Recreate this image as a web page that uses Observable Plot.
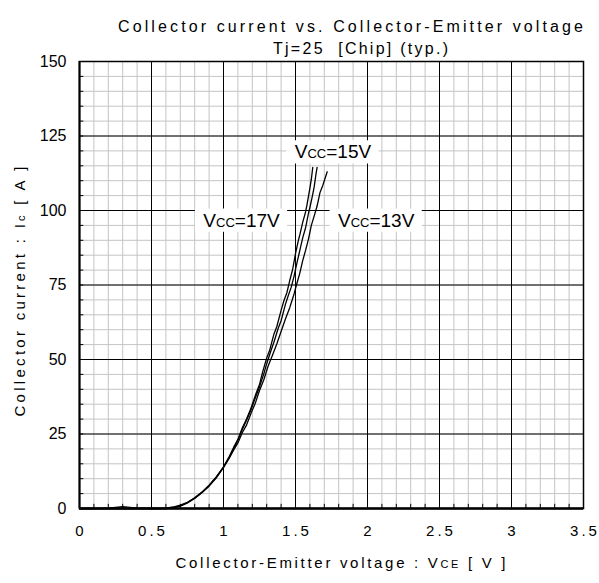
<!DOCTYPE html>
<html><head><meta charset="utf-8">
<script src="https://cdn.jsdelivr.net/npm/d3@7"></script>
<script src="https://cdn.jsdelivr.net/npm/@observablehq/plot@0.6"></script>
<style>body{margin:0;background:#fff} svg{display:block}</style>
</head><body><div id="chart"></div>
<script>
// ---- data ----
const v17 = [0,0.1,0.2,0.25,0.3,0.35,0.4,0.5,0.6,0.65,0.7,0.75,0.8,0.85,0.9,0.95,1.0,1.04,1.07,1.1,1.13,1.16,1.19,1.22,1.25,1.27,1.3,1.32,1.35,1.37,1.4,1.42,1.44,1.46,1.48,1.5,1.52,1.53,1.55,1.57,1.58,1.6,1.61,1.62];
const i17 = [0,0,0.1,0.4,0.6,0.4,0.1,0,0.1,0.5,1.1,2.1,3.6,5.5,7.8,10.6,14.0,17.4,20.5,23.2,27.0,30.0,33.6,37.8,41.6,45.5,50.5,53.0,58.5,61.0,66.5,69.8,72.4,76.5,80.2,85.5,90.0,91.8,96.0,99.5,102.0,107.5,110.5,114.5];
const v15 = [0,0.5,0.6,0.65,0.7,0.75,0.8,0.85,0.9,0.95,1.0,1.04,1.07,1.1,1.13,1.16,1.19,1.22,1.25,1.28,1.3,1.33,1.35,1.38,1.4,1.43,1.45,1.47,1.49,1.51,1.53,1.55,1.57,1.59,1.6,1.62,1.63,1.64,1.65];
const i15 = [0,0,0,0.3,0.9,2.0,3.5,5.4,7.7,10.5,13.9,17.2,20.0,22.9,26.4,29.6,33.0,37.0,40.8,45.2,48.6,53.0,55.8,60.5,63.0,68.5,71.5,74.2,78.0,82.4,86.6,90.8,94.2,99.0,101.0,105.5,108.0,111.5,114.5];
const v13 = [0,0.5,0.6,0.65,0.7,0.75,0.8,0.85,0.9,0.95,1.0,1.04,1.07,1.1,1.13,1.16,1.19,1.22,1.25,1.28,1.31,1.34,1.37,1.4,1.43,1.46,1.49,1.51,1.53,1.55,1.57,1.59,1.61,1.63,1.65,1.67,1.69,1.7,1.72];
const i13 = [0,0,0,0.2,0.8,1.9,3.4,5.3,7.5,10.3,13.7,16.9,19.6,22.0,25.4,28.0,31.8,35.2,39.6,43.2,47.8,51.4,55.2,59.4,63.6,67.4,72.0,75.6,79.0,83.2,86.6,90.4,95.0,98.2,101.5,106.0,108.5,110.0,113.0];

const seriesNames = ["VCC=17V","VCC=15V","VCC=13V"];
const labelX = [1.125, 1.76, 2.06];
const labelY = [96.6, 119.5, 96.6];

const xTicks = [0,0.5,1,1.5,2,2.5,3,3.5];
const xTickLabels = ["0","0.5","1","1.5","2","2.5","3","3.5"];
const yTicks = [0,25,50,75,100,125,150];
const yTickLabels = ["0","25","50","75","100","125","150"];
const xMinor = d3.range(0, 36).map(k => k / 10);
const yMinor = d3.range(0, 31).map(k => k * 5);

const titleText = "Collector current vs. Collector-Emitter voltage";
const subtitleText = "Tj=25  [Chip] (typ.)";
const xLabelText = "Collector-Emitter voltage : VCE [ V ]";
const yLabelText = "Collector current : Ic [ A ]";

// ---- build tables ----
const curves = [
  ...v17.map((v, k) => ({s: seriesNames[0], v, i: i17[k]})),
  ...v15.map((v, k) => ({s: seriesNames[1], v, i: i15[k]})),
  ...v13.map((v, k) => ({s: seriesNames[2], v, i: i13[k]}))
];
const labels = seriesNames.map((t, k) => ({t, x: labelX[k], y: labelY[k]}));

const font = "Liberation Sans, Arial, sans-serif";

const chart = Plot.plot({
  width: 599, height: 583,
  marginLeft: 79, marginRight: 16, marginTop: 61, marginBottom: 75,
  x: {domain: [0, 3.5], axis: null},
  y: {domain: [0, 150], axis: null},
  style: {fontFamily: font, background: "#fff"},
  marks: [
    Plot.ruleX(xMinor, {stroke: "#c4c4c4", strokeWidth: 1}),
    Plot.ruleY(yMinor, {stroke: "#c4c4c4", strokeWidth: 1}),
    Plot.ruleX(xTicks, {stroke: "#000", strokeWidth: 1}),
    Plot.ruleY(yTicks, {stroke: "#000", strokeWidth: 1}),
    // inner tick marks
    Plot.ruleX(xMinor, {y1: 0, y2: 1.4, stroke: "#000", strokeWidth: 1}),
    Plot.ruleY(yMinor, {x1: 0, x2: 0.03, stroke: "#000", strokeWidth: 1}),
    Plot.line(curves, {x: "v", y: "i", z: "s", stroke: "#000", strokeWidth: 1.3, curve: "linear"}),
    Plot.frame({stroke: "#000", strokeWidth: 1.5}),
    Plot.ruleY([0], {stroke: "#000", strokeWidth: 2.5}),
    Plot.ruleX([0], {stroke: "#000", strokeWidth: 2}),
    // white boxes behind series labels
    Plot.rect(labels, {x1: d => d.x - 0.32, x2: d => d.x + 0.32, y1: d => d.y - 3.9, y2: d => d.y + 3.9, fill: "#fff"}),
    Plot.text(labels, {x: "x", y: "y", text: "t", fontSize: 19, fill: "#000"}),
    // tick labels
    Plot.text(xTicks, {x: d => d, text: (d, k) => xTickLabels[k], frameAnchor: "bottom", dy: 27, dx: 1.5, fontSize: 15}),
    Plot.text(yTicks, {y: d => d, text: (d, k) => yTickLabels[k], frameAnchor: "left", dx: -13, textAnchor: "end", fontSize: 16}),
    // titles
    Plot.text([titleText], {text: d => d, frameAnchor: "top", dx: 19, dy: -41, fontSize: 16}),
    Plot.text([subtitleText], {text: d => d, frameAnchor: "top", dx: 29, dy: -19, fontSize: 16}),
    Plot.text([xLabelText], {text: d => d, frameAnchor: "bottom", dx: 9, dy: 59, fontSize: 15}),
    Plot.text([yLabelText], {text: d => d, frameAnchor: "left", textAnchor: "middle", dx: -59, dy: 6.5, rotate: -90, fontSize: 15})
  ]
});

// post-process: small-letter suffixes, fitted lengths, letter spacing
const svg = d3.select(chart);
svg.selectAll("text").each(function() {
  const el = d3.select(this);
  const t = el.text();
  const splitSmall = (prefix, small, size) => {
    const idx = t.indexOf(prefix + small);
    if (idx < 0) return false;
    el.text(null);
    el.append("tspan").text(t.slice(0, idx + prefix.length));
    el.append("tspan").attr("font-size", size).text(small);
    el.append("tspan").text(t.slice(idx + prefix.length + small.length));
    return true;
  };
  el.style("white-space", "pre");
  if (t === titleText) { el.attr("textLength", 465).attr("lengthAdjust", "spacing"); }
  else if (t === subtitleText) { el.attr("textLength", 175).attr("lengthAdjust", "spacing"); }
  else if (t === xLabelText) { splitSmall("V", "CE", 11); el.attr("textLength", 330).attr("lengthAdjust", "spacing"); }
  else if (t === yLabelText) { splitSmall("I", "c", 11); el.attr("textLength", 250).attr("lengthAdjust", "spacing"); }
  else if (seriesNames.includes(t)) { splitSmall("V", "CC", 13); }
});
svg.selectAll("text").filter(function() {
  return this.parentNode && this.parentNode.getAttribute("font-size") === "15" && xTickLabels.includes(d3.select(this).text());
}).style("letter-spacing", "3px");
document.getElementById("chart").appendChild(chart);
</script>
</body></html>
